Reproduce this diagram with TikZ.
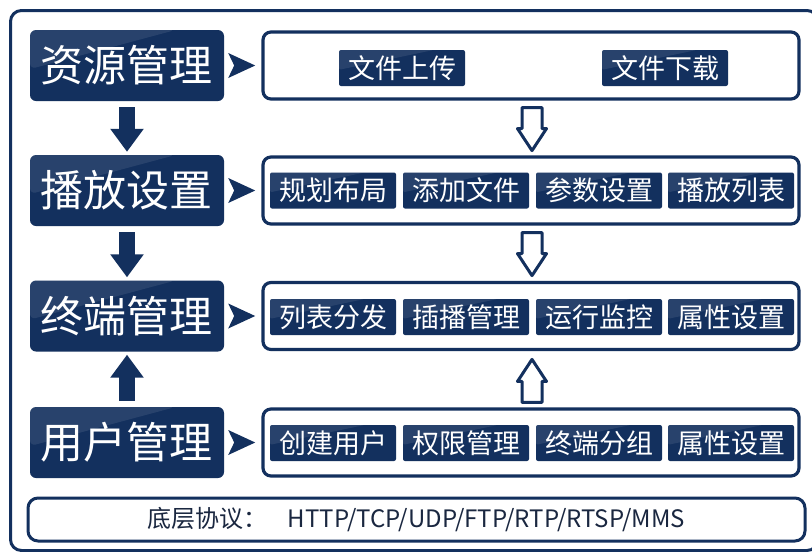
\documentclass[tikz,border=0pt]{standalone}
\usepackage{fontspec}
\setmainfont{Noto Sans CJK SC}
\usetikzlibrary{calc,arrows.meta}
\definecolor{navy}{HTML}{13305E}
\definecolor{prototext}{HTML}{1A2740}
\tikzset{
  gloss/.style={path picture={
    \fill[white,opacity=0.09] (path picture bounding box.north west) -- ($(path picture bounding box.north west)!0.75!(path picture bounding box.north east)$) -- ($(path picture bounding box.north west)!0.55!(path picture bounding box.south west)$) -- cycle;}},
  leftbox/.style={fill=navy, rounded corners=6pt, minimum width=194pt, minimum height=71pt, inner sep=0pt, text=white, font=\fontsize{43pt}{43pt}\selectfont, gloss},
  rightbox/.style={draw=navy, line width=3.2pt, fill=white, rounded corners=8pt, minimum width=536pt, minimum height=67pt, inner sep=0pt},
  itembox/.style={fill=navy, rounded corners=2pt, minimum width=126pt, minimum height=36pt, inner sep=0pt, text=white, font=\fontsize{27pt}{27pt}\selectfont, gloss},
  protobox/.style={draw=navy, line width=3pt, fill=white, rounded corners=10pt, minimum width=777pt, minimum height=43pt, inner sep=0pt, text=prototext, font=\fontsize{24pt}{24pt}\selectfont},
  solidarrow/.style={draw=navy, line width=16pt, -{Triangle[length=23pt,width=32pt]}},
  hollowarrow/.style={draw=navy, fill=white, line width=3pt, line join=round},
  pointer/.style={fill=navy},
}
\begin{document}
\begin{tikzpicture}[x=1pt,y=-1pt]
\useasboundingbox (0,0) rectangle (812,552);
\fill[white] (0,0) rectangle (812,552);
% outer frame
\draw[navy, line width=3pt, rounded corners=11pt] (10.5,10.5) rectangle (818,550.5);

% left column
\node[leftbox] (m1) at (127,65.5) {资源管理};
\node[leftbox] (m2) at (127,190.5) {播放设置};
\node[leftbox] (m3) at (127,316) {终端管理};
\node[leftbox] (m4) at (127,442.5) {用户管理};

% right boxes
\node[rightbox] (b1) at (531,65.5) {};
\node[rightbox] (b2) at (531,190.5) {};
\node[rightbox] (b3) at (531,316) {};
\node[rightbox] (b4) at (531,442.5) {};

% pointers
\foreach \m in {m1,m2,m3,m4}{
  \fill[pointer] ($(\m.east)+(4,-12.5)$) -- ++(27,12.5) -- ++(-27,12.5) -- ++(6,-12.5) -- cycle;
}

% row 1 items
\node[itembox] (u1) at (402,68) {文件上传};
\node[itembox] (u2) at (665,68) {文件下载};

% rows 2-4 items
\node[itembox] (p1) at (333,190.5) {规划布局};
\node[itembox] (p2) at (466,190.5) {添加文件};
\node[itembox] (p3) at (599,190.5) {参数设置};
\node[itembox] (p4) at (731,190.5) {播放列表};

\node[itembox] (t1) at (333,317) {列表分发};
\node[itembox] (t2) at (466,317) {插播管理};
\node[itembox] (t3) at (599,317) {运行监控};
\node[itembox] (t4) at (731,317) {属性设置};

\node[itembox] (s1) at (333,443) {创建用户};
\node[itembox] (s2) at (466,443) {权限管理};
\node[itembox] (s3) at (599,443) {终端分组};
\node[itembox] (s4) at (731,443) {属性设置};

% solid arrows on the left
\draw[solidarrow] ([yshift=-6pt]m1.south) -- ([yshift=3pt]m2.north);
\draw[solidarrow] ([yshift=-6pt]m2.south) -- ([yshift=3pt]m3.north);
\draw[solidarrow] ([yshift=6pt]m4.north) -- ([yshift=-3pt]m3.south);

% hollow arrows on the right
\draw[hollowarrow] ($(b1.south)+(-9,7)$) -- ++(20,0) -- ++(0,21) -- ++(4.5,0) -- ++(-14.5,22) -- ++(-14.5,-22) -- ++(4.5,0) -- cycle;
\draw[hollowarrow] ($(b2.south)+(-9,7)$) -- ++(20,0) -- ++(0,21) -- ++(4.5,0) -- ++(-14.5,22) -- ++(-14.5,-22) -- ++(4.5,0) -- cycle;
\draw[hollowarrow] ($(b4.north)+(-9,-5)$) -- ++(20,0) -- ++(0,-21) -- ++(4.5,0) -- ++(-14.5,-22) -- ++(-14.5,22) -- ++(4.5,0) -- cycle;

% protocol box
\node[protobox] (proto) at (416.5,519.5) {底层协议：\hspace{20pt}HTTP/TCP/UDP/FTP/RTP/RTSP/MMS\hspace{15pt}};
\end{tikzpicture}
\end{document}
